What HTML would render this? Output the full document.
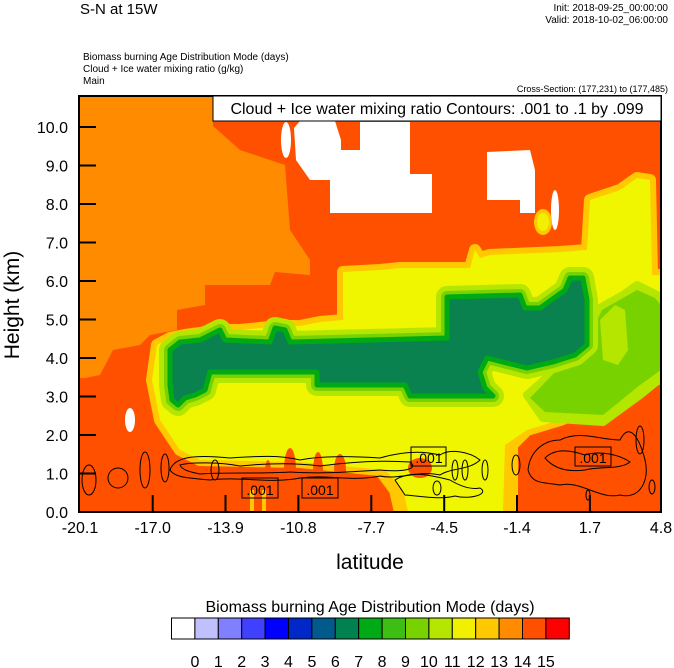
<!DOCTYPE html>
<html><head><meta charset="utf-8"><style>
html,body{margin:0;padding:0;background:#fff;}
svg{display:block;font-family:"Liberation Sans",sans-serif;}
</style></head><body>
<svg width="674" height="668" viewBox="0 0 674 668" xmlns="http://www.w3.org/2000/svg">
<rect width="674" height="668" fill="#fff"/>
<text x="80" y="14" font-size="15">S-N at 15W</text>
<text x="668" y="11" font-size="10" text-anchor="end">Init: 2018-09-25_00:00:00</text>
<text x="668" y="23" font-size="10" text-anchor="end">Valid: 2018-10-02_06:00:00</text>
<text x="83" y="60" font-size="10">Biomass burning Age Distribution Mode   (days)</text>
<text x="83" y="72" font-size="10">Cloud + Ice water mixing ratio   (g/kg)</text>
<text x="83" y="84" font-size="10">Main</text>
<text x="668" y="92" font-size="9" text-anchor="end">Cross-Section: (177,231) to (177,485)</text>
<defs><clipPath id="c"><rect x="79" y="96" width="582" height="416"/></clipPath></defs>
<g clip-path="url(#c)">
<rect x="79" y="96" width="582" height="416" fill="#ff5000"/>
<polygon fill="#ff8c00" points="79,96 213,96 213,126 240,150 285,165 290,230 310,260 310,275 275,272 270,285 205,285 205,305 177,310 177,330 150,335 140,345 113,350 100,375 85,378 79,378"/>
<g fill="#fff">
<ellipse cx="286" cy="140" rx="5" ry="18"/>
<polygon points="294,128 300,121 335,121 341,140 341,150 360,150 360,122 410,122 410,174 432,174 432,213 330,213 330,180 310,180 296,160"/>
<polygon points="487,152 530,150 535,170 535,213 520,213 520,200 487,200"/>
<ellipse cx="555" cy="210" rx="4" ry="20"/>
<ellipse cx="130" cy="420" rx="5" ry="12"/>
</g>
<ellipse cx="543" cy="222" rx="9" ry="13" fill="#ffc800"/>
<ellipse cx="543" cy="222" rx="6" ry="9" fill="#f0f000"/>
<g stroke-linejoin="round">
<polygon fill="#ffc800" stroke="#ffc800" stroke-width="12" points="157,345 170,338 185,335 200,333 215,330 240,330 260,328 280,326 300,326 320,322 343,320 343,272 380,270 400,268 470,268 475,250 480,258 490,255 560,252 587,250 590,200 620,190 637,178 650,180 652,275 661,275 661,378 640,385 610,395 590,408 560,420 527,430 512,445 512,512 400,512 395,490 380,470 300,462 200,460 180,450 160,420 152,380"/>
<polygon fill="#f0f500" points="157,345 170,338 185,335 200,333 215,330 240,330 260,328 280,326 300,326 320,322 343,320 343,272 380,270 400,268 470,268 475,250 480,258 490,255 560,252 587,250 590,200 620,190 637,178 650,180 652,275 661,275 661,378 640,385 610,395 590,408 560,420 527,430 505,445 503,512 408,512 403,490 385,470 300,462 200,460 180,450 160,420 152,380"/>
<polygon fill="#b4e600" stroke="#b4e600" stroke-width="8" points="527,395 557,368 583,348 600,308 623,295 637,285 657,295 661,300 661,378 640,395 603,422 543,418"/>
<polygon fill="#78d200" points="530,398 557,370 583,350 602,310 623,298 637,290 655,298 661,305 661,370 640,385 603,415 545,412"/>
<polygon fill="#b4e600" points="600,320 615,305 625,310 628,350 618,365 603,360"/>
<polygon fill="#b4e600" stroke="#b4e600" stroke-width="22" points="170,350 180,342 200,340 210,335 220,330 225,340 270,342 275,328 285,330 290,342 370,340 447,338 447,297 520,295 525,308 540,308 565,290 570,278 583,278 587,300 587,345 575,355 553,362 527,368 487,358 480,372 485,388 493,396 410,396 405,385 317,385 317,372 210,372 205,390 195,395 185,398 178,405 172,400 170,385"/>
<polygon fill="#78d200" stroke="#78d200" stroke-width="12" points="170,350 180,342 200,340 210,335 220,330 225,340 270,342 275,328 285,330 290,342 370,340 447,338 447,297 520,295 525,308 540,308 565,290 570,278 583,278 587,300 587,345 575,355 553,362 527,368 487,358 480,372 485,388 493,396 410,396 405,385 317,385 317,372 210,372 205,390 195,395 185,398 178,405 172,400 170,385"/>
<polygon fill="#0a8250" stroke="#00aa14" stroke-width="5" points="170,350 180,342 200,340 210,335 220,330 225,340 270,342 275,328 285,330 290,342 370,340 447,338 447,297 520,295 525,308 540,308 565,290 570,278 583,278 587,300 587,345 575,355 553,362 527,368 487,358 480,372 485,388 493,396 410,396 405,385 317,385 317,372 210,372 205,390 195,395 185,398 178,405 172,400 170,385"/>
</g>
<g fill="#ff5000">
<ellipse cx="290" cy="470" rx="6" ry="22"/><ellipse cx="318" cy="472" rx="5" ry="20"/><ellipse cx="340" cy="470" rx="6" ry="16"/>
<ellipse cx="268" cy="485" rx="4" ry="25"/><ellipse cx="420" cy="468" rx="12" ry="10"/>
</g>
<g fill="#ffc800"><rect x="250" y="490" width="4" height="22"/><rect x="262" y="490" width="4" height="22"/></g>
<g fill="none" stroke="#000" stroke-width="1">
<path d="M170,470 C175,455 200,455 230,458 C260,456 280,455 300,460 C320,456 350,456 380,458 C400,452 420,450 440,455 C450,448 470,452 480,460 C470,470 450,468 440,475 C420,470 400,480 380,476 C350,482 330,474 300,478 C270,484 240,476 210,480 C190,478 175,478 170,470 Z"/>
<path d="M180,465 C190,462 220,462 240,466 C260,464 290,462 320,466 C350,462 380,460 410,462 C420,470 400,472 380,470 C350,472 320,474 290,472 C260,474 230,472 200,474 C190,472 182,470 180,465 Z"/>
<path d="M395,480 C410,470 430,475 450,480 C460,486 470,490 480,488 C490,494 470,500 455,496 C440,500 420,496 405,495 Z"/>
<ellipse cx="145" cy="470" rx="5" ry="18"/><ellipse cx="165" cy="468" rx="4" ry="14"/>
<ellipse cx="89" cy="480" rx="7" ry="15"/><ellipse cx="118" cy="478" rx="10" ry="10"/>
<ellipse cx="215" cy="470" rx="4" ry="10"/><ellipse cx="437" cy="488" rx="4" ry="7"/>
<ellipse cx="455" cy="470" rx="3" ry="10"/><ellipse cx="465" cy="470" rx="3" ry="10"/><ellipse cx="485" cy="470" rx="3" ry="10"/>
<path d="M528,470 C530,450 545,440 560,440 C580,430 600,440 620,440 C630,420 640,440 645,460 C650,480 640,500 620,495 C600,500 580,480 560,485 C545,482 532,485 528,470 Z"/>
<path d="M545,458 C555,448 570,450 585,455 C600,450 620,455 630,462 C620,470 600,466 585,470 C570,472 555,470 545,458 Z"/>
<ellipse cx="516" cy="465" rx="4" ry="10"/><ellipse cx="652" cy="487" rx="3" ry="7"/><ellipse cx="588" cy="495" rx="2" ry="5"/>
<ellipse cx="640" cy="440" rx="4" ry="14"/>
<rect x="242" y="478" width="36" height="20"/>
<rect x="302" y="478" width="36" height="20"/>
<rect x="411" y="447" width="35" height="19"/>
<rect x="575" y="447" width="36" height="19"/>
</g>
<g font-size="14" text-anchor="middle">
<text x="260" y="495">.001</text><text x="320" y="495">.001</text>
<text x="429" y="463">.001</text><text x="593" y="463">.001</text>
</g>
</g>
<rect x="79" y="96" width="582" height="416" fill="none" stroke="#000" stroke-width="2"/>
<rect x="213" y="96" width="448" height="25" fill="#fff" stroke="#000" stroke-width="1"/>
<text x="437" y="114" font-size="16" text-anchor="middle">Cloud + Ice water mixing ratio Contours: .001 to .1 by .099</text>
<g stroke="#000" stroke-width="2">
<line x1="79" y1="127" x2="96" y2="127"/><line x1="79" y1="165.5" x2="96" y2="165.5"/><line x1="79" y1="204" x2="96" y2="204"/><line x1="79" y1="242.5" x2="96" y2="242.5"/><line x1="79" y1="281" x2="96" y2="281"/><line x1="79" y1="319.5" x2="96" y2="319.5"/><line x1="79" y1="358" x2="96" y2="358"/><line x1="79" y1="396.5" x2="96" y2="396.5"/><line x1="79" y1="435" x2="96" y2="435"/><line x1="79" y1="473.5" x2="96" y2="473.5"/>
<line x1="152.7" y1="512" x2="152.7" y2="495"/><line x1="225.5" y1="512" x2="225.5" y2="495"/><line x1="298.4" y1="512" x2="298.4" y2="495"/><line x1="371.3" y1="512" x2="371.3" y2="495"/><line x1="444.2" y1="512" x2="444.2" y2="495"/><line x1="517" y1="512" x2="517" y2="495"/><line x1="589.9" y1="512" x2="589.9" y2="495"/>
</g>
<g font-size="16" text-anchor="end">
<text x="68" y="133">10.0</text><text x="68" y="171.5">9.0</text><text x="68" y="210">8.0</text><text x="68" y="248.5">7.0</text><text x="68" y="287">6.0</text><text x="68" y="325.5">5.0</text><text x="68" y="364">4.0</text><text x="68" y="402.5">3.0</text><text x="68" y="441">2.0</text><text x="68" y="479.5">1.0</text><text x="68" y="518">0.0</text>
</g>
<g font-size="16" text-anchor="middle">
<text x="80" y="533">-20.1</text><text x="152.7" y="533">-17.0</text><text x="225.5" y="533">-13.9</text><text x="298.4" y="533">-10.8</text><text x="371.3" y="533">-7.7</text><text x="444.2" y="533">-4.5</text><text x="517" y="533">-1.4</text><text x="589.9" y="533">1.7</text><text x="661" y="533">4.8</text>
</g>
<text x="370" y="569" font-size="21" text-anchor="middle">latitude</text>
<text transform="translate(19,305) rotate(-90)" font-size="21" text-anchor="middle">Height (km)</text>
<text x="370" y="612" font-size="16" text-anchor="middle">Biomass burning Age Distribution Mode  (days)</text>
<g stroke="#000" stroke-width="1">
<rect x="171.5" y="618" width="23.4" height="21" fill="#ffffff"/>
<rect x="194.9" y="618" width="23.4" height="21" fill="#c0c0ff"/>
<rect x="218.3" y="618" width="23.4" height="21" fill="#8080ff"/>
<rect x="241.7" y="618" width="23.4" height="21" fill="#4040ff"/>
<rect x="265.1" y="618" width="23.4" height="21" fill="#0000ff"/>
<rect x="288.5" y="618" width="23.4" height="21" fill="#0028c8"/>
<rect x="311.9" y="618" width="23.4" height="21" fill="#005a8c"/>
<rect x="335.3" y="618" width="23.4" height="21" fill="#008250"/>
<rect x="358.7" y="618" width="23.4" height="21" fill="#00aa14"/>
<rect x="382.1" y="618" width="23.4" height="21" fill="#3cbe14"/>
<rect x="405.5" y="618" width="23.4" height="21" fill="#78d200"/>
<rect x="428.9" y="618" width="23.4" height="21" fill="#b4e600"/>
<rect x="452.3" y="618" width="23.4" height="21" fill="#f0f000"/>
<rect x="475.7" y="618" width="23.4" height="21" fill="#ffc800"/>
<rect x="499.1" y="618" width="23.4" height="21" fill="#ff8c00"/>
<rect x="522.5" y="618" width="23.4" height="21" fill="#ff5000"/>
<rect x="545.9" y="618" width="23.4" height="21" fill="#ff0000"/>
</g>
<g font-size="16" text-anchor="middle">
<text x="194.9" y="667">0</text><text x="218.3" y="667">1</text><text x="241.7" y="667">2</text><text x="265.1" y="667">3</text><text x="288.5" y="667">4</text><text x="311.9" y="667">5</text><text x="335.3" y="667">6</text><text x="358.7" y="667">7</text><text x="382.1" y="667">8</text><text x="405.5" y="667">9</text><text x="428.9" y="667">10</text><text x="452.3" y="667">11</text><text x="475.7" y="667">12</text><text x="499.1" y="667">13</text><text x="522.5" y="667">14</text><text x="545.9" y="667">15</text>
</g>
</svg>
</body></html>
